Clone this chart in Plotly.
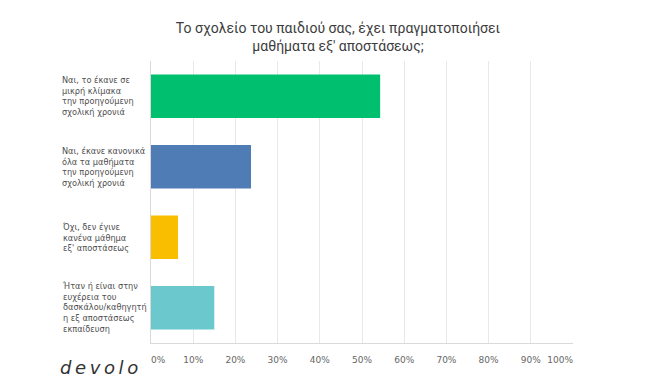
import plotly.graph_objects as go

title_text = "Το σχολείο του παιδιού σας, έχει πραγματοποιήσει<br>μαθήματα εξ' αποστάσεως;"
categories = [
    "Ναι, το έκανε σε<br>μικρή κλίμακα<br>την προηγούμενη<br>σχολική χρονιά",
    "Ναι, έκανε κανονικά<br>όλα τα μαθήματα<br>την προηγούμενη<br>σχολική χρονιά",
    "Όχι, δεν έγινε<br>κανένα μάθημα<br>εξ' αποστάσεως",
    "Ήταν ή είναι στην<br>ευχέρεια του<br>δασκάλου/καθηγητή<br>η εξ αποστάσεως<br>εκπαίδευση",
]
values = [0.543, 0.237, 0.064, 0.150]
colors = ["#00BF6F", "#507CB6", "#F9BE00", "#6BC8CD"]
tick_vals = [i / 10 for i in range(11)]
tick_labels = [f"{i*10}%" for i in range(11)]
brand = "devolo"

W, H = 660, 381
ML, MR, MT, MB = 151, 87, 61, 38
PW, PH = W - ML - MR, H - MT - MB


def px_x(p):
    return (p - ML) / PW


def px_y(p):
    return (H - MB - p) / PH


# end labels sit inside the plot edges, as in the reference
NB = "\u00a0"
tick_text = list(tick_labels)
tick_text[0] = NB * 5 + tick_text[0]
tick_text[-1] = tick_text[-1] + NB * 9

fig = go.Figure()
fig.add_trace(go.Bar(
    x=values, y=categories, orientation="h",
    marker=dict(color=colors, line=dict(width=0)),
    showlegend=False,
))

for cat in categories:
    fig.add_annotation(
        x=px_x(60), xref="paper", y=cat, yref="y",
        text=cat, showarrow=False, xanchor="left", yanchor="middle",
        align="left", font=dict(family="DejaVu Sans", size=8.2, color="#505050"),
    )

fig.add_annotation(
    x=px_x(58), xref="paper", y=px_y(367), yref="paper",
    text="\u2009".join(brand), showarrow=False, xanchor="left", yanchor="middle",
    font=dict(family="DejaVu Sans", size=18, color="#333333", style="italic"),
)

fig.update_layout(
    width=W, height=H,
    margin=dict(l=ML, r=MR, t=MT, b=MB),
    paper_bgcolor="white", plot_bgcolor="white",
    bargap=0.38,
    title=dict(
        text=title_text, x=338 / W, xanchor="center", y=1 - 33 / H, yanchor="middle",
        font=dict(family="Roboto", size=14, color="#3c3c3c"),
    ),
    xaxis=dict(
        range=[0, 1], tickvals=tick_vals, ticktext=tick_text,
        showgrid=True, gridcolor="#e8e8e8", gridwidth=1,
        showline=True, linecolor="#d9d9d9", linewidth=1,
        ticks="outside", ticklen=8, tickcolor="rgba(0,0,0,0)",
        tickfont=dict(family="DejaVu Sans", size=9, color="#666666"),
        zeroline=False, fixedrange=True,
    ),
    yaxis=dict(
        autorange="reversed", showticklabels=False,
        showline=True, linecolor="#d9d9d9", linewidth=1,
        showgrid=False, zeroline=False, fixedrange=True,
    ),
)

fig.write_html("out.html", config={"displayModeBar": False},
               post_script="document.body.style.margin='0';")
